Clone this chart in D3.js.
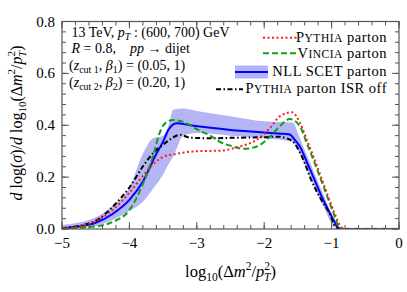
<!DOCTYPE html>
<html>
<head>
<meta charset="utf-8">
<script src="https://cdnjs.cloudflare.com/ajax/libs/d3/7.8.5/d3.min.js"></script>
<style>
  body { margin: 0; background: #fff; }
  svg text { font-family: "Liberation Serif", "Times New Roman", serif; fill: #000; white-space: pre; }
</style>
</head>
<body>
<svg id="chart"></svg>
<script>
// Tick values
var xTicks = [-5, -4, -3, -2, -1, 0];
var yTicks = [0.0, 0.2, 0.4, 0.6, 0.8];

// Pythia parton (red dotted)
var pythiaX = [-5, -4.75, -4.5, -4.24, -4.0, -3.79, -3.64, -3.5, -3.3, -3.0, -2.66, -2.36, -2.11, -1.91, -1.77, -1.59, -1.47, -1.37, -1.27, -1.12, -0.97, -0.85, -0.8, 0];
var pythiaY = [0.002, 0.01, 0.03, 0.075, 0.14, 0.208, 0.252, 0.278, 0.29, 0.30, 0.302, 0.318, 0.344, 0.39, 0.434, 0.45, 0.41, 0.345, 0.28, 0.175, 0.07, 0.005, 0, 0];

// Vincia parton (green dashed)
var vinciaX = [-5, -4.75, -4.44, -4.24, -4.0, -3.79, -3.64, -3.55, -3.45, -3.35, -3.2, -2.95, -2.8, -2.65, -2.46, -2.31, -2.11, -1.91, -1.77, -1.62, -1.47, -1.37, -1.27, -1.12, -0.97, -0.88, -0.8, 0];
var vinciaY = [0.002, 0.005, 0.012, 0.028, 0.073, 0.18, 0.29, 0.372, 0.412, 0.42, 0.413, 0.378, 0.36, 0.335, 0.318, 0.309, 0.318, 0.357, 0.396, 0.424, 0.396, 0.332, 0.267, 0.164, 0.06, 0.005, 0, 0];

// NLL SCET parton (blue solid)
var nllX = [-5, -4.75, -4.5, -4.25, -4.0, -3.8, -3.6, -3.5, -3.42, -3.3, -3.1, -2.8, -2.5, -2.2, -2.0, -1.8, -1.62, -1.55, -1.47, -1.37, -1.27, -1.12, -0.97, -0.9, -0.85, -0.5, 0];
var nllY = [0.004, 0.01, 0.024, 0.058, 0.112, 0.183, 0.29, 0.337, 0.383, 0.408, 0.40, 0.39, 0.382, 0.376, 0.372, 0.368, 0.364, 0.345, 0.318, 0.26, 0.20, 0.11, 0.035, 0.004, 0, 0, 0];

// NLL SCET uncertainty band
var bandX  = [-5, -4.5, -4.25, -4.0, -3.8, -3.65, -3.5, -3.42, -3.35, -3.2, -3.0, -2.5, -2.0, -1.57, -1.5, -1.4, -1.3, -1.2, -1.1, -1.0, -0.9, -0.85, 0];
var bandHi = [0.015, 0.045, 0.09, 0.16, 0.29, 0.35, 0.36, 0.40, 0.46, 0.465, 0.455, 0.435, 0.415, 0.41, 0.37, 0.305, 0.245, 0.18, 0.12, 0.06, 0.012, 0.005, 0.005];
var bandLo = [0, 0.012, 0.035, 0.07, 0.105, 0.155, 0.21, 0.25, 0.28, 0.36, 0.37, 0.36, 0.35, 0.335, 0.305, 0.25, 0.19, 0.13, 0.075, 0.02, 0, 0, 0];

// Pythia parton ISR off (black dash-dot)
var isrOffX = [-5, -4.75, -4.44, -4.24, -4.0, -3.79, -3.64, -3.5, -3.35, -3.25, -3.1, -2.8, -2.4, -2.0, -1.8, -1.67, -1.55, -1.49, -1.4, -1.32, -1.17, -1.02, -0.95, -0.88, 0];
var isrOffY = [0.003, 0.012, 0.041, 0.088, 0.16, 0.245, 0.295, 0.325, 0.353, 0.363, 0.352, 0.35, 0.352, 0.354, 0.356, 0.35, 0.33, 0.305, 0.255, 0.2, 0.12, 0.054, 0.01, 0, 0];

// SVG size params
var W = 407, H = 292;
var margin = {top: 21.5, right: 8, bottom: 63, left: 62};
var width = W - margin.left - margin.right;
var height = H - margin.top - margin.bottom;

var svg = d3.select("#chart")
    .attr("width", W)
    .attr("height", H)
  .append("g")
    .attr("transform", "translate(" + margin.left + "," + margin.top + ")");

// Scales
var x = d3.scaleLinear().domain([-5, 0]).range([0, width]);
var y = d3.scaleLinear().domain([0, 0.8]).range([height, 0]);

svg.append('defs')
  .append('clipPath')
    .attr('id', 'clipper')
  .append('rect')
    .attr('width', width)
    .attr('height', height);

function pts(xs, ys) {
  return xs.map(function(d, i) { return [d, ys[i]]; });
}

var line = d3.line()
    .x(d => x(d[0]))
    .y(d => y(d[1]))
    .curve(d3.curveMonotoneX);

var plot = svg.append("g").attr("clip-path", "url(#clipper)");

// Band
plot.append("path")
    .datum(bandX.map((d, i) => [d, bandLo[i], bandHi[i]]))
    .attr("fill", "#b3b5f5")
    .attr("d", d3.area()
        .x(d => x(d[0]))
        .y0(d => y(d[1]))
        .y1(d => y(d[2]))
        .curve(d3.curveMonotoneX));

var series = [
  {xs: nllX, ys: nllY, color: "#0000ff", dash: null, w: 2},
  {xs: isrOffX, ys: isrOffY, color: "#000", dash: "5,2.5,1.5,2.5", w: 2},
  {xs: vinciaX, ys: vinciaY, color: "#10a010", dash: "6,3", w: 2},
  {xs: pythiaX, ys: pythiaY, color: "#ff1a1a", dash: "2,2.5", w: 2}
];

series.forEach(function(s) {
  plot.append("path")
      .datum(pts(s.xs, s.ys))
      .attr("fill", "none")
      .attr("stroke", s.color)
      .attr("stroke-width", s.w)
      .attr("stroke-dasharray", s.dash)
      .attr("d", line);
});

// Frame and ticks (inward on all four sides)
var frameColor = "#555";
var xMinor = d3.range(-5, 0.001, 0.2);
var yMinor = d3.range(0, 0.8001, 0.04);

function tickMarks(vals, len, horiz) {
  vals.forEach(function(v) {
    if (horiz) {
      svg.append("line").attr("x1", x(v)).attr("x2", x(v)).attr("y1", height).attr("y2", height - len);
      svg.append("line").attr("x1", x(v)).attr("x2", x(v)).attr("y1", 0).attr("y2", len);
    } else {
      svg.append("line").attr("x1", 0).attr("x2", len).attr("y1", y(v)).attr("y2", y(v));
      svg.append("line").attr("x1", width).attr("x2", width - len).attr("y1", y(v)).attr("y2", y(v));
    }
  });
}
tickMarks(xMinor, 4, true);
tickMarks(xTicks, 7, true);
tickMarks(yMinor, 4, false);
tickMarks(yTicks, 7, false);
svg.selectAll("line").attr("stroke", frameColor).attr("stroke-width", 1);

svg.append("rect")
    .attr("width", width)
    .attr("height", height)
    .attr("fill", "none")
    .attr("stroke", frameColor)
    .attr("stroke-width", 1.2);

// Tick labels
svg.selectAll(".xlab")
  .data(xTicks)
  .enter().append("text")
    .attr("x", d => x(d))
    .attr("y", height + 19)
    .attr("text-anchor", "middle")
    .style("font-size", "15px")
    .text(d => d < 0 ? "\u2212" + Math.abs(d) : d);

svg.selectAll(".ylab")
  .data(yTicks)
  .enter().append("text")
    .attr("x", -7)
    .attr("y", d => y(d) + 5)
    .attr("text-anchor", "end")
    .style("font-size", "15px")
    .text(d => d.toFixed(1));

// Helper for rich text
function rich(sel, parts) {
  parts.forEach(function(p) {
    var t = sel.append("tspan").text(p.t);
    if (p.i) t.style("font-style", "italic");
    if (p.s) t.style("font-size", p.s + "px");
    if (p.dy) t.attr("dy", p.dy);
    if (p.dx) t.attr("dx", p.dx);
  });
  return sel;
}

// Axis titles
rich(svg.append("text")
    .attr("x", width / 2)
    .attr("y", height + 48)
    .attr("text-anchor", "middle")
    .style("font-size", "16.5px"), [
  {t: "log"}, {t: "10", s: 11.5, dy: 4}, {t: "(\u0394", dy: -4}, {t: "m", i: true},
  {t: "2", s: 11.5, dy: -7}, {t: "/", dy: 7}, {t: "p", i: true},
  {t: "2", s: 11.5, dy: -7}, {t: "T", i: true, s: 11.5, dx: -6, dy: 11}, {t: ")", dy: -4}
]);

rich(svg.append("text")
    .attr("transform", "translate(" + (22 - margin.left) + "," + (123 - margin.top) + ") rotate(-90)")
    .attr("text-anchor", "middle")
    .style("font-size", "16px"), [
  {t: "d", i: true}, {t: " log("}, {t: "\u03c3", i: true}, {t: ")/"}, {t: "d", i: true},
  {t: " log"}, {t: "10", s: 11, dy: 4}, {t: "(\u0394", dy: -4}, {t: "m", i: true},
  {t: "2", s: 11, dy: -7}, {t: "/", dy: 7}, {t: "p", i: true},
  {t: "2", s: 11, dy: -7}, {t: "T", i: true, s: 11, dx: -6, dy: 11}, {t: ")", dy: -4}
]);

// Annotation text
var ann = svg.append("g").style("font-size", "14px");
var ax = 71.5 - margin.left;
rich(ann.append("text").attr("x", ax).attr("y", 37 - margin.top), [
  {t: "13 TeV, "}, {t: "p", i: true}, {t: "T", i: true, s: 10, dy: 3}, {t: " : (600, 700) GeV", dy: -3}
]);
rich(ann.append("text").attr("x", ax).attr("y", 52.5 - margin.top), [
  {t: "R", i: true}, {t: " = 0.8,    "}, {t: "pp", i: true}, {t: " \u2192 dijet"}
]);
rich(ann.append("text").attr("x", ax - 2.5).attr("y", 70 - margin.top), [
  {t: "("}, {t: "z", i: true}, {t: "cut 1", s: 10, dy: 3}, {t: ", ", dy: -3}, {t: "\u03b2", i: true},
  {t: "1", s: 10, dy: 3}, {t: ") = (0.05, 1)", dy: -3}
]);
rich(ann.append("text").attr("x", ax - 2.5).attr("y", 87 - margin.top), [
  {t: "("}, {t: "z", i: true}, {t: "cut 2", s: 10, dy: 3}, {t: ", ", dy: -3}, {t: "\u03b2", i: true},
  {t: "2", s: 10, dy: 3}, {t: ") = (0.20, 1)", dy: -3}
]);

// Legend
var legend = [
  {name: [{t: "P"}, {t: "YTHIA", s: 11.5}, {t: " parton"}], color: "#ff1a1a", dash: "2,2.5", x1: 263, x2: 297, y: 37.7, ty: 42},
  {name: [{t: "V"}, {t: "INCIA", s: 11.5}, {t: " parton"}], color: "#10a010", dash: "6,3", x1: 263, x2: 297, y: 53.3, ty: 57.5},
  {name: [{t: "NLL SCET parton"}], color: "#0000ff", dash: null, x1: 235, x2: 268, y: 72, ty: 76, band: true},
  {name: [{t: "P"}, {t: "YTHIA", s: 11.5}, {t: " parton ISR off"}], color: "#000", dash: "5,2.5,1.5,2.5", x1: 216, x2: 243, y: 89.3, ty: 93}
];

var lg = svg.append("g").attr("transform", "translate(" + (-margin.left) + "," + (-margin.top) + ")");
legend.forEach(function(d) {
  if (d.band) {
    lg.append("rect")
        .attr("x", d.x1).attr("y", d.y - 6.5)
        .attr("width", d.x2 - d.x1).attr("height", 13)
        .attr("fill", "#b3b5f5");
  }
  lg.append("line")
      .attr("x1", d.x1).attr("x2", d.x2)
      .attr("y1", d.y).attr("y2", d.y)
      .attr("stroke", d.color)
      .attr("stroke-width", 2)
      .attr("stroke-dasharray", d.dash);
  rich(lg.append("text")
      .attr("x", 387)
      .attr("y", d.ty)
      .attr("text-anchor", "end")
      .style("letter-spacing", "0.5px")
      .style("font-size", "14.5px"), d.name);
});
</script>
</body>
</html>
